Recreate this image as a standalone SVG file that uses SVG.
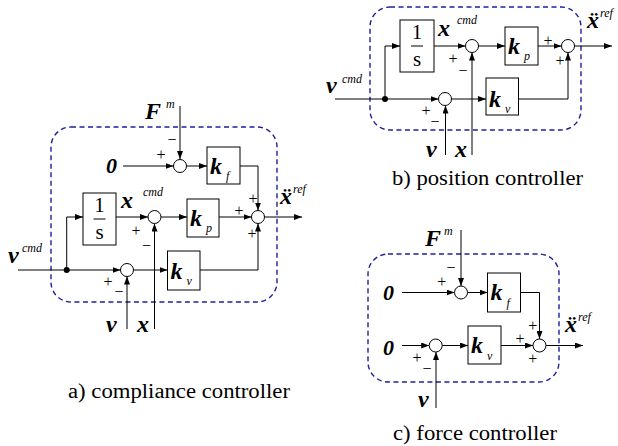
<svg xmlns="http://www.w3.org/2000/svg" width="618" height="446" viewBox="0 0 618 446">
<style>
.ln{stroke:#000;stroke-width:1;fill:none}
.box{fill:#fff;stroke:#000;stroke-width:1}
.sum{fill:#fff;stroke:#000;stroke-width:1}
.dash{fill:none;stroke:#1f1f9e;stroke-width:1.4;stroke-dasharray:5 3.5}
.dot{fill:#000}
text{font-family:'Liberation Serif','Times New Roman','DejaVu Serif',serif}
.var{font-weight:bold;font-style:italic;font-size:24px}
.zero{font-weight:bold;font-style:italic;font-size:22px}
.sup{font-style:italic;font-size:12px}
.sub{font-style:italic;font-size:12px}
.frac{font-size:21px;text-anchor:middle}
.sg{font-size:16px;text-anchor:middle}
.cap{font-size:20px}
</style>
<defs>
<marker id="ar" markerWidth="8" markerHeight="6" refX="8" refY="3" orient="auto" markerUnits="userSpaceOnUse">
<path d="M0,0 L8,3 L0,6 z" fill="#000"/>
</marker>
</defs>

<!-- ===== a) compliance controller ===== -->
<rect class="dash" x="51" y="127" width="226" height="175" rx="20"/>
<g id="a-connectors" class="ln">
<path d="M180,106 V159" marker-end="url(#ar)"/>
<path d="M123,166 H173.5" marker-end="url(#ar)"/>
<path d="M186.5,166 H207" marker-end="url(#ar)"/>
<path d="M240,166 H258 V210.5" marker-end="url(#ar)"/>
<path d="M264.5,217 H302" marker-end="url(#ar)"/>
<path d="M66.7,270 V217 H83" marker-end="url(#ar)"/>
<path d="M116,217 H148" marker-end="url(#ar)"/>
<path d="M154.5,329 V223.5" marker-end="url(#ar)"/>
<path d="M161,217 H187" marker-end="url(#ar)"/>
<path d="M219,217 H251.5" marker-end="url(#ar)"/>
<path d="M18,270 H120.5" marker-end="url(#ar)"/>
<path d="M133.5,270 H167.5" marker-end="url(#ar)"/>
<path d="M200,270 H258 V223.5" marker-end="url(#ar)"/>
<path d="M127,329 V276.5" marker-end="url(#ar)"/>
</g>
<g id="a-Fm"><text class="var" x="145" y="119">F</text><text class="sup" x="166" y="108">m</text></g>
<g id="a-zero"><text class="zero" x="106" y="173">0</text></g>
<g id="a-sum-f"><circle class="sum" cx="180" cy="166" r="6.5"/><text class="sg" x="172" y="144.5">−</text><text class="sg" x="161" y="159.5">+</text></g>
<g id="a-kf"><rect class="box" x="207" y="147" width="33" height="37"/><text class="var" x="210" y="173.5">k</text><text class="sub" x="226" y="180">f</text></g>
<g id="a-sum-out"><circle class="sum" cx="258" cy="217" r="6.5"/><text class="sg" x="253" y="203.5">+</text><text class="sg" x="239" y="215.5">+</text><text class="sg" x="252" y="238.5">+</text></g>
<g id="a-xref"><text class="var" x="280" y="204">ẍ</text><text class="sup" x="293" y="193">ref</text></g>
<g id="a-junction"><circle class="dot" cx="66.7" cy="270" r="3"/></g>
<g id="a-int"><rect class="box" x="83" y="193" width="33" height="52"/><text class="frac" x="99.5" y="212">1</text><path class="ln" d="M93.5,219 H105.5"/><text class="frac" x="99.5" y="239">s</text></g>
<g id="a-xcmd"><text class="var" x="121" y="208">x</text><text class="sup" x="143" y="196">cmd</text></g>
<g id="a-sum-p"><circle class="sum" cx="154.5" cy="217" r="6.5"/><text class="sg" x="136" y="235.5">+</text><text class="sg" x="146.5" y="250.5">−</text></g>
<g id="a-kp"><rect class="box" x="187" y="199" width="32" height="38"/><text class="var" x="190" y="225.5">k</text><text class="sub" x="206" y="232">p</text></g>
<g id="a-vcmd"><text class="var" x="8" y="263">v</text><text class="sup" x="22" y="252">cmd</text></g>
<g id="a-sum-v"><circle class="sum" cx="127" cy="270" r="6.5"/><text class="sg" x="108" y="287">+</text><text class="sg" x="119" y="297">−</text></g>
<g id="a-kv"><rect class="box" x="167.5" y="251" width="32.5" height="39"/><text class="var" x="170.5" y="278.5">k</text><text class="sub" x="186.5" y="285">v</text></g>
<g id="a-v"><text class="var" x="106" y="332">v</text></g>
<g id="a-x"><text class="var" x="137" y="332">x</text></g>
<text class="cap" x="68" y="398" textLength="222" lengthAdjust="spacingAndGlyphs">a) compliance controller</text>

<!-- ===== b) position controller ===== -->
<rect class="dash" x="370" y="7" width="211" height="123" rx="20"/>
<g id="b-connectors" class="ln">
<path d="M385,99 V46 H400" marker-end="url(#ar)"/>
<path d="M434,46 H465.5" marker-end="url(#ar)"/>
<path d="M472,155 V52.5" marker-end="url(#ar)"/>
<path d="M478.5,46 H505" marker-end="url(#ar)"/>
<path d="M538,46 H561.5" marker-end="url(#ar)"/>
<path d="M574.5,46 H612" marker-end="url(#ar)"/>
<path d="M335,99 H438.5" marker-end="url(#ar)"/>
<path d="M451.5,99 H486" marker-end="url(#ar)"/>
<path d="M518.5,99 H568 V52.5" marker-end="url(#ar)"/>
<path d="M445.5,155 V105.5" marker-end="url(#ar)"/>
</g>
<g id="b-junction"><circle class="dot" cx="385" cy="99" r="3"/></g>
<g id="b-int"><rect class="box" x="400" y="20" width="34" height="52"/><text class="frac" x="417" y="39">1</text><path class="ln" d="M411,46 H423"/><text class="frac" x="417" y="66">s</text></g>
<g id="b-xcmd"><text class="var" x="438" y="36">x</text><text class="sup" x="457" y="24">cmd</text></g>
<g id="b-sum-p"><circle class="sum" cx="472" cy="46" r="6.5"/><text class="sg" x="453" y="63.5">+</text><text class="sg" x="463" y="75.5">−</text></g>
<g id="b-kp"><rect class="box" x="505" y="27" width="33" height="38"/><text class="var" x="508" y="53.5">k</text><text class="sub" x="524" y="60">p</text></g>
<g id="b-sum-out"><circle class="sum" cx="568" cy="46" r="6.5"/><text class="sg" x="548" y="45.5">+</text><text class="sg" x="560" y="65.5">+</text></g>
<g id="b-xref"><text class="var" x="587" y="28">ẍ</text><text class="sup" x="600" y="17">ref</text></g>
<g id="b-vcmd"><text class="var" x="326" y="93">v</text><text class="sup" x="342" y="83">cmd</text></g>
<g id="b-sum-v"><circle class="sum" cx="445" cy="99" r="6.5"/><text class="sg" x="426" y="115.5">+</text><text class="sg" x="435" y="127">−</text></g>
<g id="b-kv"><rect class="box" x="486" y="78" width="32.5" height="37"/><text class="var" x="489" y="106.5">k</text><text class="sub" x="505" y="113">v</text></g>
<g id="b-v"><text class="var" x="426" y="157">v</text></g>
<g id="b-x"><text class="var" x="455" y="157">x</text></g>
<text class="cap" x="392" y="185" textLength="191" lengthAdjust="spacingAndGlyphs">b) position controller</text>

<!-- ===== c) force controller ===== -->
<rect class="dash" x="368" y="254" width="191" height="128" rx="20"/>
<g id="c-connectors" class="ln">
<path d="M461,230 V286" marker-end="url(#ar)"/>
<path d="M402,292.5 H454.5" marker-end="url(#ar)"/>
<path d="M467.5,292.5 H487.5" marker-end="url(#ar)"/>
<path d="M520.5,292.5 H539.5 V339" marker-end="url(#ar)"/>
<path d="M546,345.5 H583" marker-end="url(#ar)"/>
<path d="M402,345.5 H429.2" marker-end="url(#ar)"/>
<path d="M442.2,345.5 H468" marker-end="url(#ar)"/>
<path d="M501,345.5 H533" marker-end="url(#ar)"/>
<path d="M436,408 V352" marker-end="url(#ar)"/>
</g>
<g id="c-Fm"><text class="var" x="425" y="246">F</text><text class="sup" x="444" y="235">m</text></g>
<g id="c-zero1"><text class="zero" x="383" y="300">0</text></g>
<g id="c-sum-f"><circle class="sum" cx="461" cy="292.5" r="6.5"/><text class="sg" x="451" y="272.5">−</text><text class="sg" x="441.7" y="286.5">+</text></g>
<g id="c-kf"><rect class="box" x="487.5" y="273" width="33" height="39"/><text class="var" x="490.5" y="300">k</text><text class="sub" x="506.5" y="306.5">f</text></g>
<g id="c-sum-out"><circle class="sum" cx="539.5" cy="345.5" r="6.5"/><text class="sg" x="532.7" y="330.5">+</text><text class="sg" x="520" y="343.5">+</text><text class="sg" x="532.7" y="363.8">+</text></g>
<g id="c-xref"><text class="var" x="565" y="332">ẍ</text><text class="sup" x="578" y="321">ref</text></g>
<g id="c-zero2"><text class="zero" x="383" y="355">0</text></g>
<g id="c-sum-v"><circle class="sum" cx="435.7" cy="345.5" r="6.5"/><text class="sg" x="417" y="362.5">+</text><text class="sg" x="427" y="373.5">−</text></g>
<g id="c-kv"><rect class="box" x="468" y="326" width="33" height="38"/><text class="var" x="471" y="353">k</text><text class="sub" x="487" y="359.5">v</text></g>
<g id="c-v"><text class="var" x="418" y="407">v</text></g>
<text class="cap" x="393" y="440" textLength="164" lengthAdjust="spacingAndGlyphs">c) force controller</text>
</svg>
